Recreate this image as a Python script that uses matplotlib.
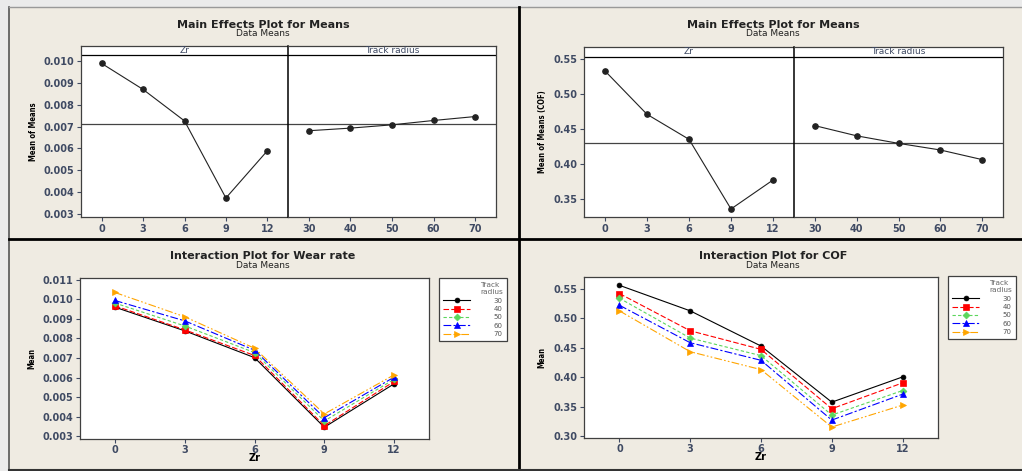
import matplotlib
matplotlib.use("Agg")
import matplotlib.pyplot as plt
from matplotlib.lines import Line2D
from matplotlib.patches import Rectangle

W, H = 1022, 471

# factor levels
zr_levels = [0, 3, 6, 9, 12]
track_levels = [30, 40, 50, 60, 70]

# main effects, wear rate
wear_zr_means = [0.00989, 0.00870, 0.00726, 0.00373, 0.00589]
wear_track_means = [0.00681, 0.00693, 0.00708, 0.00728, 0.00746]
wear_grand_mean = 0.00710

# main effects, COF
cof_zr_means = [0.5333, 0.4711, 0.4352, 0.3352, 0.3768]
cof_track_means = [0.4548, 0.4402, 0.4294, 0.4199, 0.4061]
cof_grand_mean = 0.4294

# interaction, wear rate (one list per track radius)
wear_r30 = [0.00960, 0.00839, 0.00702, 0.00346, 0.00568]
wear_r40 = [0.00967, 0.00844, 0.00713, 0.00354, 0.00580]
wear_r50 = [0.00981, 0.00864, 0.00728, 0.00378, 0.00591]
wear_r60 = [0.00994, 0.00890, 0.00740, 0.00395, 0.00602]
wear_r70 = [0.01035, 0.00911, 0.00750, 0.00414, 0.00614]

# interaction, COF
cof_r30 = [0.5556, 0.5123, 0.4526, 0.3574, 0.4002]
cof_r40 = [0.5416, 0.4785, 0.4470, 0.3462, 0.3901]
cof_r50 = [0.5337, 0.4661, 0.4363, 0.3355, 0.3771]
cof_r60 = [0.5218, 0.4582, 0.4284, 0.3270, 0.3709]
cof_r70 = [0.5123, 0.4430, 0.4126, 0.3152, 0.3524]

BG = "#EFEBE2"
TXT = "#3F4A63"
SPINE = "#404040"

# style for each track radius series
series_styles = [
    dict(color="black", marker="o", ms=3.5, ls="-"),
    dict(color="#FF0000", marker="s", ms=4.5, dashes=(5, 2)),
    dict(color="#5CD65C", marker="D", ms=3.5, dashes=(3, 2)),
    dict(color="#0000FF", marker="^", ms=4.5, dashes=(7, 2, 2, 2)),
    dict(color="#FFA500", marker=">", ms=4.5, dashes=(7, 2, 1.5, 2, 1.5, 2)),
]


def px_rect(x0, y0, x1, y1):
    return [x0 / W, 1 - y1 / H, (x1 - x0) / W, (y1 - y0) / H]


def fig_text(fig, x, y, s, **kw):
    fig.text(x / W, 1 - y / H, s, ha="center", va="center", **kw)


def style_axes(ax, pad=2):
    ax.set_facecolor("white")
    for sp in ax.spines.values():
        sp.set_color(SPINE)
        sp.set_linewidth(0.9)
    ax.tick_params(labelsize=7, colors=TXT, length=3, width=0.8, pad=pad)
    for lab in ax.get_xticklabels() + ax.get_yticklabels():
        lab.set_fontweight("bold")


fig = plt.figure(figsize=(W / 100, H / 100), dpi=100)
fig.patch.set_facecolor("#EBEBEB")

# beige background and panel frame
fig.patches.append(Rectangle((9 / W, 0), 1, 1 - 7 / H, transform=fig.transFigure,
                             facecolor=BG, edgecolor="none", zorder=-10))
fig.lines.append(Line2D([9 / W, 9 / W], [0, 1 - 7 / H], transform=fig.transFigure,
                        color="#555555", lw=1.2))
fig.lines.append(Line2D([9 / W, 1], [1 - 7 / H, 1 - 7 / H], transform=fig.transFigure,
                        color="#999999", lw=1.0))
fig.lines.append(Line2D([519 / W, 519 / W], [0, 1 - 7 / H], transform=fig.transFigure,
                        color="black", lw=2.0))
fig.lines.append(Line2D([9 / W, 1], [1 - 239 / H, 1 - 239 / H], transform=fig.transFigure,
                        color="black", lw=2.0))
fig.lines.append(Line2D([9 / W, 1], [1 - 470 / H, 1 - 470 / H], transform=fig.transFigure,
                        color="#333333", lw=1.5))


def main_effects(left_px, mid_px, right_px, top_px, bot_px, strip_px, ylim, yticks,
                 yfmt, zr_means, track_means, grand, ylabel, ylab_x, title_x):
    ax1 = fig.add_axes(px_rect(left_px, top_px, mid_px, bot_px))
    ax2 = fig.add_axes(px_rect(mid_px, top_px, right_px, bot_px), sharey=ax1)
    strip_frac = 1 - (strip_px - top_px) / (bot_px - top_px)
    for ax, levels, means, name in ((ax1, zr_levels, zr_means, "Zr"),
                                    (ax2, track_levels, track_means, "Track radius")):
        idx = list(range(len(levels)))
        ax.plot(idx, means, color="#222222", lw=0.8, marker="o", ms=3.8, zorder=3)
        ax.axhline(grand, color="#444444", lw=0.9, zorder=2)
        ax.axhline(ylim[0] + strip_frac * (ylim[1] - ylim[0]), color="black", lw=0.9)
        ax.set_xlim(-0.5, len(levels) - 0.5)
        ax.set_xticks(idx)
        ax.set_xticklabels([str(v) for v in levels])
        ax.text(0.5, (1 + strip_frac) / 2, name, transform=ax.transAxes,
                ha="center", va="center", fontsize=6.5, color=TXT)
        style_axes(ax)
    ax1.set_ylim(*ylim)
    ax1.set_yticks(yticks)
    ax1.set_yticklabels([yfmt.format(v) for v in yticks])
    for lab in ax1.get_yticklabels():
        lab.set_fontweight("bold")
    ax2.tick_params(axis="y", left=False, labelleft=False)
    ax1.spines["right"].set_visible(False)
    ax2.spines["left"].set_color("black")
    ax2.spines["left"].set_linewidth(1.1)
    fig_text(fig, ylab_x, (top_px + bot_px) / 2, ylabel, rotation=90,
             fontsize=5.5, fontweight="bold", fontstretch="condensed", color="black")
    fig_text(fig, title_x, 25, "Main Effects Plot for Means", fontsize=8,
             fontweight="bold", color="#222222")
    fig_text(fig, title_x, 34, "Data Means", fontsize=6.5, color="#222222")


main_effects(81, 288, 496, 46, 217, 55, (0.00286, 0.01069),
             [0.003, 0.004, 0.005, 0.006, 0.007, 0.008, 0.009, 0.010], "{:.3f}",
             wear_zr_means, wear_track_means, wear_grand_mean,
             "Mean of Means", 33, 263)

main_effects(584, 794, 1003, 47, 217, 57, (0.3237, 0.5677),
             [0.35, 0.40, 0.45, 0.50, 0.55], "{:.2f}",
             cof_zr_means, cof_track_means, cof_grand_mean,
             "Mean of Means (COF)", 542, 773)


def interaction(left_px, right_px, top_px, bot_px, ylim, yticks, yfmt, series,
                title, title_x, ylab_x, legend_px):
    ax = fig.add_axes(px_rect(left_px, top_px, right_px, bot_px))
    for vals, lab, st in zip(series, track_levels, series_styles):
        st = dict(st)
        dashes = st.pop("dashes", None)
        line, = ax.plot(zr_levels, vals, lw=0.8, label=str(lab),
                        markeredgewidth=0.5, markeredgecolor=st["color"], **st)
        if dashes is not None:
            line.set_dashes(dashes)
    ax.set_xlim(-1.5, 13.5)
    ax.set_ylim(*ylim)
    ax.set_xticks(zr_levels)
    ax.set_yticks(yticks)
    ax.set_yticklabels([yfmt.format(v) for v in yticks])
    style_axes(ax)
    ax.tick_params(axis="x", pad=1)
    ax.set_xlabel("Zr", fontsize=7, fontweight="bold", labelpad=-1)
    fig_text(fig, ylab_x, (top_px + bot_px) / 2, "Mean", rotation=90,
             fontsize=5.5, fontweight="bold", fontstretch="condensed", color="black")
    fig_text(fig, title_x, 256, title, fontsize=8, fontweight="bold", color="#222222")
    fig_text(fig, title_x, 266, "Data Means", fontsize=6.5, color="#222222")
    leg = ax.legend(loc="upper left", bbox_to_anchor=(legend_px[0] / W, 1 - legend_px[1] / H),
                    bbox_transform=fig.transFigure, borderaxespad=0,
                    title="Track\nradius", alignment="right", fontsize=5,
                    title_fontsize=5.3, handlelength=3.9, handletextpad=3.4,
                    labelspacing=0.35, borderpad=0.6, fancybox=False,
                    framealpha=1, edgecolor=SPINE)
    leg.get_frame().set_linewidth(0.9)
    leg.get_title().set_color("#666666")
    for t in leg.get_texts():
        t.set_color("#555555")


interaction(80, 429, 278, 439, (0.00286, 0.01109),
            [0.003, 0.004, 0.005, 0.006, 0.007, 0.008, 0.009, 0.010, 0.011], "{:.3f}",
            [wear_r30, wear_r40, wear_r50, wear_r60, wear_r70],
            "Interaction Plot for Wear rate", 263, 32, (439, 278))

interaction(584, 938, 277, 438, (0.2966, 0.5697),
            [0.30, 0.35, 0.40, 0.45, 0.50, 0.55], "{:.2f}",
            [cof_r30, cof_r40, cof_r50, cof_r60, cof_r70],
            "Interaction Plot for COF", 773, 542, (948, 276))

fig.savefig("out.png", dpi=100, facecolor=fig.get_facecolor())
